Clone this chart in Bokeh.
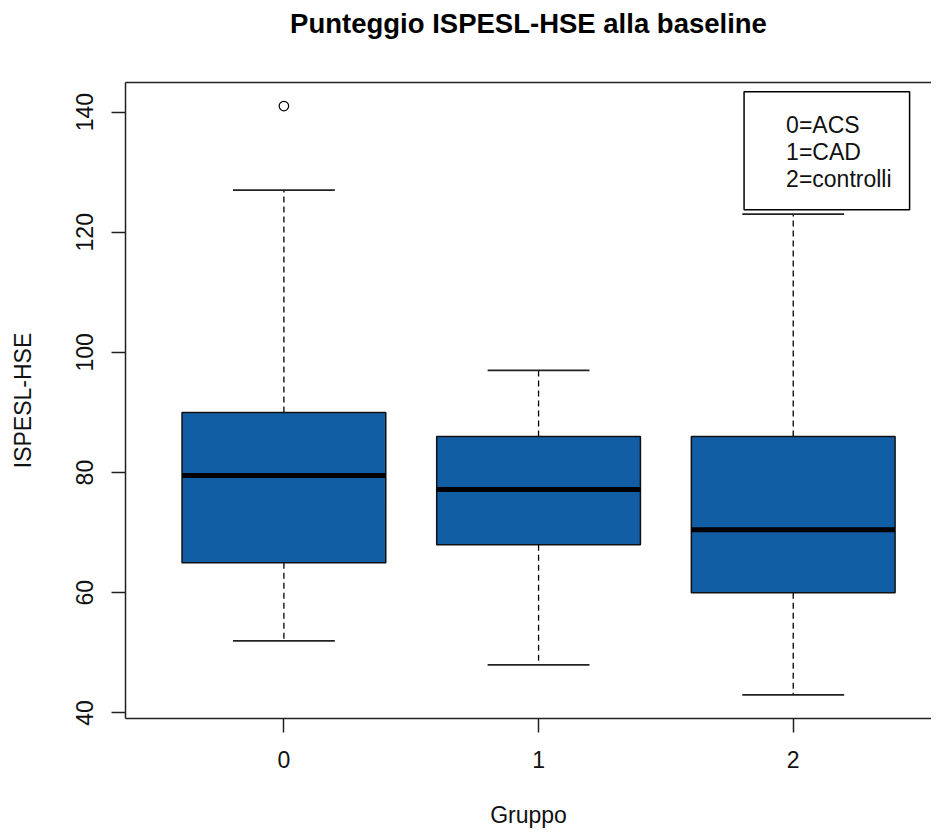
from bokeh.plotting import figure
from bokeh.models import FixedTicker, LinearAxis, Range1d
from bokeh.core.properties import value
from bokeh.embed import file_html
from bokeh.resources import INLINE

# ---- data ----
groups = ["0", "1", "2"]
q1 = [65, 68, 60]
median = [79.5, 77.2, 70.5]
q3 = [90, 86, 86]
whisker_low = [52, 48, 43]
whisker_high = [127, 97, 123]
outlier_group = ["0"]
outlier_value = [141]
y_ticks = [40, 60, 80, 100, 120, 140]
legend_lines = ["0=ACS", "1=CAD", "2=controlli"]

title = "Punteggio ISPESL-HSE alla baseline"
x_label = "Gruppo"
y_label = "ISPESL-HSE"

# ---- style ----
FONT = "Liberation Sans"
BOX_COLOR = "#115EA4"
BOX_W = 0.8
CAP_W = 0.4

pos = {g: i + 1 for i, g in enumerate(groups)}
xs = [pos[g] for g in groups]

p = figure(width=931, height=831, output_backend="svg", toolbar_location=None,
           x_range=Range1d(0.378, 3.543), y_range=Range1d(39.08, 144.92),
           min_border_left=125, min_border_top=82, min_border_bottom=113,
           min_border_right=0)
p.grid.visible = False
p.outline_line_color = None
p.background_fill_color = "white"
p.border_fill_color = "white"

# axes
for ax in (p.xaxis[0], p.yaxis[0]):
    ax.axis_line_color = "#222222"
    ax.axis_line_width = 1.5
    ax.major_tick_line_color = "#222222"
    ax.major_tick_line_width = 1.5
    ax.major_tick_in = 0
    ax.major_tick_out = 14
    ax.minor_tick_line_color = None
    ax.major_label_text_font = FONT
    ax.major_label_text_font_size = "23px"
    ax.major_label_text_color = "#111111"
    ax.major_label_standoff = 18
    ax.axis_label_text_font = FONT
    ax.axis_label_text_font_size = "23px"
    ax.axis_label_text_font_style = "normal"
    ax.axis_label_text_color = "#111111"

p.xaxis.ticker = FixedTicker(ticks=xs)
p.xaxis.major_label_overrides = {pos[g]: g for g in groups}
p.xaxis.axis_label = x_label
p.xaxis.axis_label_standoff = 31

p.yaxis.ticker = FixedTicker(ticks=y_ticks)
p.yaxis.major_label_orientation = "vertical"
p.yaxis.axis_label = y_label
p.yaxis.axis_label_standoff = 38

# top edge of the box, carrying the main title
top_axis = LinearAxis(ticker=FixedTicker(ticks=[]), axis_line_color="#222222",
                      axis_line_width=1.5, major_tick_line_color=None,
                      major_tick_out=0, major_tick_in=0, major_label_standoff=0,
                      minor_tick_line_color=None, major_label_text_font_size="0px",
                      axis_label=title, axis_label_text_font=FONT,
                      axis_label_text_font_size="27.5px",
                      axis_label_text_font_style="bold",
                      axis_label_text_color="black", axis_label_standoff=44)
p.add_layout(top_axis, "above")

# whiskers (dashed)
p.segment(x0=xs, y0=q3, x1=xs, y1=whisker_high, line_color="black",
          line_width=1.3, line_dash="6 4")
p.segment(x0=xs, y0=q1, x1=xs, y1=whisker_low, line_color="black",
          line_width=1.3, line_dash="6 4")
# caps
p.segment(x0=[x - CAP_W / 2 for x in xs], y0=whisker_high,
          x1=[x + CAP_W / 2 for x in xs], y1=whisker_high,
          line_color="#222222", line_width=1.8)
p.segment(x0=[x - CAP_W / 2 for x in xs], y0=whisker_low,
          x1=[x + CAP_W / 2 for x in xs], y1=whisker_low,
          line_color="#222222", line_width=1.8)
# boxes
p.quad(left=[x - BOX_W / 2 for x in xs], right=[x + BOX_W / 2 for x in xs],
       bottom=q1, top=q3, fill_color=BOX_COLOR, line_color="#111111",
       line_width=1.5)
# medians
p.segment(x0=[x - BOX_W / 2 for x in xs], y0=median,
          x1=[x + BOX_W / 2 for x in xs], y1=median,
          line_color="black", line_width=5)
# outliers
p.scatter(x=[pos[g] for g in outlier_group], y=outlier_value, marker="circle",
          size=9.5, fill_color=None, line_color="black", line_width=1.2)

# legend box (top right)
p.quad(left=[2.807], right=[3.457], top=[143.4], bottom=[123.74],
       fill_color="white", line_color="black", line_width=1.5)
leg_y = [137.9, 133.3, 128.8]
p.text(x=[2.972] * len(legend_lines), y=leg_y, text=legend_lines,
       text_font=value(FONT), text_font_size="23px", text_color="#111111",
       text_baseline="middle", text_align="left")

open("out.html", "w").write(file_html(p, INLINE))
